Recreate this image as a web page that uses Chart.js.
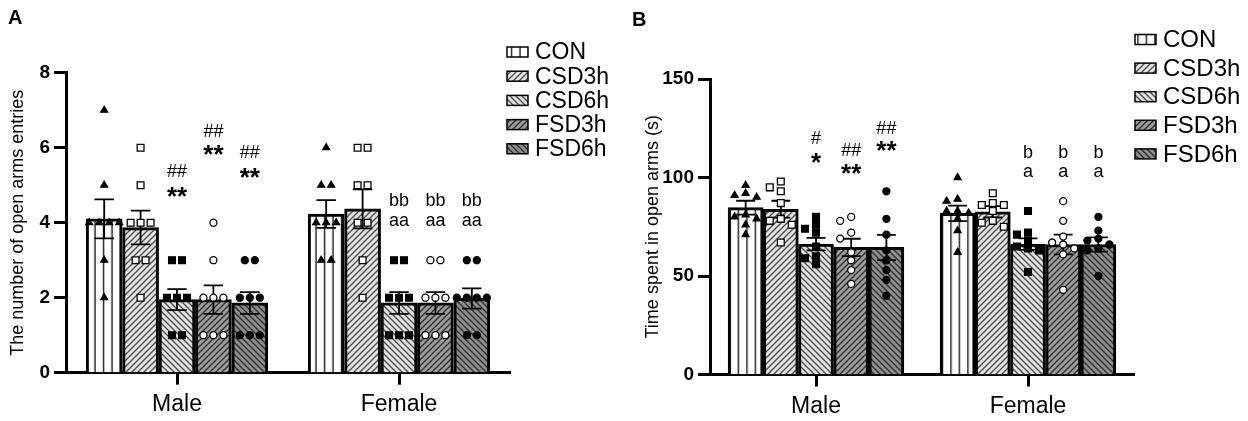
<!DOCTYPE html>
<html><head><meta charset="utf-8">
<script src="https://cdn.jsdelivr.net/npm/chart.js@4.4.1/dist/chart.umd.min.js"></script>
<style>
html,body{margin:0;padding:0;background:#fff;}
#wrap{position:relative;width:1248px;height:421px;overflow:hidden;background:#fff;}
canvas{position:absolute;top:0;}
#ca{left:0;} #cb{left:620px;}
</style></head><body>
<div id="wrap"><canvas id="ca" width="620" height="421"></canvas><canvas id="cb" width="628" height="421"></canvas></div>
<script>
// ---------- DATA ----------
const categories = ['Male', 'Female'];
const groups = ['CON', 'CSD3h', 'CSD6h', 'FSD3h', 'FSD6h'];

// Panel A: number of open arms entries
const aTicks = [0, 2, 4, 6, 8];
const aMeanMale   = [4.10, 3.87, 1.95, 1.95, 1.86];
const aMeanFemale = [4.23, 4.37, 1.86, 1.86, 1.98];
const aSemMale    = [0.52, 0.45, 0.28, 0.38, 0.29];
const aSemFemale  = [0.37, 0.52, 0.29, 0.29, 0.27];
const aPtsMale = [
  [7, 5, 4, 4, 4, 4, 3, 2],
  [6, 5, 4, 4, 4, 3, 3, 2],
  [3, 3, 2, 2, 2, 1, 1],
  [4, 3, 2, 2, 2, 1, 1, 1],
  [3, 3, 2, 2, 2, 1, 1, 1]
];
const aPtsFemale = [
  [6, 5, 5, 4, 4, 4, 3, 3],
  [6, 6, 5, 5, 4, 4, 3, 2],
  [3, 3, 2, 2, 2, 1, 1, 1],
  [3, 3, 2, 2, 2, 1, 1, 1],
  [3, 3, 2, 2, 2, 2, 1, 1]
];
const aMarksMale   = [null, null, [['##', 5.34], ['**', 4.81]], [['##', 6.42], ['**', 5.91]], [['##', 5.85], ['**', 5.32]]];
const aMarksFemale = [null, null, [['bb', 4.58], ['aa', 4.05]], [['bb', 4.58], ['aa', 4.05]], [['bb', 4.58], ['aa', 4.05]]];

// Panel B: time spent in open arms (s)
const bTicks = [0, 50, 100, 150];
const bMeanMale   = [84.7, 83.9, 66.2, 64.5, 64.5];
const bMeanFemale = [81.8, 82.6, 66.2, 66.0, 66.0];
const bSemMale    = [3.5, 4.3, 3.2, 4.4, 6.4];
const bSemFemale  = [3.9, 2.9, 2.9, 5.0, 3.6];
const bPtsMale = [
  [96, 92, 91, 90, 81, 80, 79, 76, 71],
  [98, 95, 93, 87, 79, 78, 76, 67],
  [80, 76, 74, 72, 65, 60, 59, 56],
  [80, 78, 72, 69, 62, 58, 53, 46],
  [93, 79, 71, 63, 58, 53, 48, 40]
];
const bPtsFemale = [
  [100, 89, 88, 83, 83, 82, 79, 73, 62],
  [92, 87, 86, 86, 83, 78, 77, 75],
  [83, 72, 71, 68, 65, 64, 63, 52],
  [88, 78, 70, 67, 66, 64, 61, 43],
  [80, 73, 69, 68, 66, 64, 63, 50]
];
const bMarksMale   = [null, null, [['#', 119.4], ['*', 109.7]], [['##', 113.6], ['**', 104.2]], [['##', 124.5], ['**', 115.6]]];
const bMarksFemale = [null, null, [['b', 112.6], ['a', 103]], [['b', 112.6], ['a', 103]], [['b', 112.6], ['a', 103]]];

// ---------- STYLE ----------
const FAM = '"Liberation Sans", Arial, Helvetica, sans-serif';
const markerStyle = [
  {style: 'triangle', fill: '#000', r: 4},
  {style: 'rect', fill: '#fff', r: 4.8},
  {style: 'rect', fill: '#000', r: 4.8},
  {style: 'circle', fill: '#fff', r: 3.5},
  {style: 'circle', fill: '#000', r: 3.5}
];

function vPattern(phase) {
  const c = document.createElement('canvas'); c.width = 17; c.height = 4;
  const x = c.getContext('2d');
  x.fillStyle = '#fff'; x.fillRect(0, 0, 17, 4);
  x.fillStyle = '#1a1a1a'; x.fillRect(0, 0, 1.4, 4); x.fillRect(8.5, 0, 1.4, 4);
  const p = x.createPattern(c, 'repeat');
  if (p.setTransform) p.setTransform(new DOMMatrix([1, 0, 0, 1, phase, 0]));
  return p;
}
function dPattern(bg, fg, dir, s, lw) {
  const c = document.createElement('canvas'); c.width = s; c.height = s;
  const x = c.getContext('2d');
  x.fillStyle = bg; x.fillRect(0, 0, s, s);
  x.strokeStyle = fg; x.lineWidth = lw; x.beginPath();
  if (dir > 0) {
    x.moveTo(-1, s + 1); x.lineTo(s + 1, -1);
    x.moveTo(-1, 1); x.lineTo(1, -1);
    x.moveTo(s - 1, s + 1); x.lineTo(s + 1, s - 1);
  } else {
    x.moveTo(-1, -1); x.lineTo(s + 1, s + 1);
    x.moveTo(s - 1, -1); x.lineTo(s + 1, 1);
    x.moveTo(-1, s - 1); x.lineTo(1, s + 1);
  }
  x.stroke();
  return x.createPattern(c, 'repeat');
}
function fills(phase) {
  return [
    vPattern(phase),
    dPattern('#e4e4e4', '#4a4a4a', 1, 6, 1.3),
    dPattern('#e2e2e2', '#4a4a4a', -1, 6, 1.3),
    dPattern('#9c9c9c', '#2e2e2e', 1, 6, 1.3),
    dPattern('#8e8e8e', '#2e2e2e', -1, 6, 1.3)
  ];
}

// horizontal spreading of individual points (offsets in category-index units)
function swarm(values, dx, thrY, rows) {
  const off = new Array(values.length);
  if (rows) {
    const g = {};
    values.forEach((v, i) => { (g[v] = g[v] || []).push(i); });
    Object.values(g).forEach(list => list.forEach((i, k) => { off[i] = (k - (list.length - 1) / 2) * dx; }));
    return off;
  }
  const order = values.map((v, i) => i).sort((a, b) => values[b] - values[a]);
  const placed = [];
  const cands = [0, -1, 1, -2, 2];
  order.forEach(i => {
    const v = values[i];
    for (const c of cands) {
      const o = c * dx;
      if (!placed.some(p => Math.abs(p.v - v) < thrY && Math.abs(p.o - o) < dx * 0.9)) { off[i] = o; placed.push({v, o}); break; }
    }
    if (off[i] === undefined) { off[i] = 0; placed.push({v, o: 0}); }
  });
  return off;
}

function buildChart(canvas, cfg) {
  const pats = fills(cfg.phase);
  const n = groups.length;
  const slotX = (g, s) => g + (s - (n - 1) / 2) * cfg.slot;  // group index -> bar centre in index units
  const datasets = [];
  groups.forEach((name, s) => {
    datasets.push({
      type: 'bar', label: name, order: 2, grouped: false,
      data: cfg.means.map((m, g) => ({x: slotX(g, s), y: m[s]})),
      backgroundColor: pats[s], borderColor: '#000', borderWidth: 3,
      barThickness: cfg.barW
    });
  });
  groups.forEach((name, s) => {
    const data = [];
    cfg.pts.forEach((grp, g) => {
      const vals = grp[s];
      const off = swarm(vals, cfg.dx, cfg.thrY, cfg.rows);
      vals.forEach((v, k) => data.push({x: slotX(g, s) + off[k], y: v}));
    });
    const m = markerStyle[s];
    datasets.push({
      type: 'scatter', label: name + ' pts', order: 1, grouped: false, data,
      pointStyle: m.style, pointRadius: m.r, pointHoverRadius: m.r,
      pointBackgroundColor: m.fill, pointBorderColor: '#000', pointBorderWidth: 1.3, showLine: false
    });
  });

  const errPlugin = {
    id: 'errbars',
    afterDatasetDraw(chart, args) {
      if (args.meta.type !== 'bar' || args.index !== 0) return;
      const y = chart.scales.y, ctx = chart.ctx;
      ctx.save(); ctx.strokeStyle = '#000'; ctx.lineWidth = 1.8;
      for (let s = 0; s < n; s++) {
        chart.getDatasetMeta(s).data.forEach((bar, g) => {
          const m = cfg.means[g][s], e = cfg.sems[g][s];
          const x = bar.x, hw = bar.width * 0.27;
          const yt = y.getPixelForValue(m + e), yb = y.getPixelForValue(m - e);
          ctx.beginPath();
          ctx.moveTo(x, yt); ctx.lineTo(x, yb);
          ctx.moveTo(x - hw, yt); ctx.lineTo(x + hw, yt);
          ctx.moveTo(x - hw, yb); ctx.lineTo(x + hw, yb);
          ctx.stroke();
        });
      }
      ctx.restore();
    }
  };
  const textPlugin = {
    id: 'texts',
    afterDraw(chart) {
      const ctx = chart.ctx, y = chart.scales.y;
      ctx.save(); ctx.fillStyle = '#000';
      ctx.textAlign = 'center'; ctx.textBaseline = 'middle';
      cfg.marks.forEach((list, g) => list.forEach((entry, s) => {
        if (!entry) return;
        const bar = chart.getDatasetMeta(s).data[g];
        entry.forEach(([t, v]) => {
          const star = t.indexOf('*') >= 0, hash = t.indexOf('#') >= 0;
          const sz = star ? cfg.starSize : (hash ? cfg.hashSize : cfg.letterSize);
          ctx.font = (star ? 'bold ' : '') + sz + 'px ' + FAM;
          ctx.fillText(t, bar.x, y.getPixelForValue(v) + (star ? sz * 0.2 : 0));
        });
      }));
      // legend
      const L = cfg.legend;
      ctx.textAlign = 'left'; ctx.font = L.size + 'px ' + FAM;
      groups.forEach((name, s) => {
        const cy = L.y + s * L.dy;
        ctx.fillStyle = chart.data.datasets[s].backgroundColor;
        ctx.fillRect(L.x, cy - 5, 21, 10);
        ctx.strokeStyle = '#000'; ctx.lineWidth = 1.5;
        ctx.strokeRect(L.x, cy - 5, 21, 10);
        ctx.fillStyle = '#000';
        ctx.fillText(name, L.x + L.tx, cy + 1);
      });
      // panel letter
      ctx.font = 'bold 20px ' + FAM;
      ctx.fillText(cfg.letter, cfg.letterX, cfg.letterY);
      ctx.restore();
    }
  };

  return new Chart(canvas, {
    type: 'bar',
    data: {datasets},
    options: {
      responsive: false, animation: false, events: [],
      layout: {padding: {left: 0, right: cfg.padRight, top: cfg.top, bottom: 0}},
      plugins: {legend: {display: false}, tooltip: {enabled: false}},
      scales: {
        x: {
          type: 'linear', min: -0.5, max: 1.5, offset: false,
          afterBuildTicks: s => { s.ticks = categories.map((c, i) => ({value: i})); },
          grid: {display: true, offset: false, drawOnChartArea: false, color: '#000', tickColor: '#000', tickLength: 12, tickWidth: 3},
          border: {display: true, color: '#000', width: 3},
          ticks: {color: '#000', font: {family: FAM, size: 23}, padding: 6, autoSkip: false, maxRotation: 0,
                  callback: v => categories[Math.round(v)]},
          afterFit: s => { s.height = cfg.xH; }
        },
        y: {
          type: 'linear', min: 0, max: cfg.ticks[cfg.ticks.length - 1],
          afterBuildTicks: s => { s.ticks = cfg.ticks.map(v => ({value: v})); },
          ticks: {color: '#000', font: {family: FAM, size: 19, weight: 'bold'}, padding: 4},
          grid: {drawOnChartArea: false, color: '#000', tickColor: '#000', tickLength: 12, tickWidth: 3},
          border: {display: true, color: '#000', width: 3},
          title: {display: true, text: cfg.yTitle, color: '#000', font: {family: FAM, size: 18}, padding: {top: cfg.titlePad, bottom: 0}},
          afterFit: s => { s.width = cfg.yW; }
        }
      }
    },
    plugins: [errPlugin, textPlugin]
  });
}

buildChart(document.getElementById('ca'), {
  means: [aMeanMale, aMeanFemale], sems: [aSemMale, aSemFemale], pts: [aPtsMale, aPtsFemale],
  marks: [aMarksMale, aMarksFemale], ticks: aTicks,
  yTitle: 'The number of open arms entries', titlePad: 7,
  yW: 66, padRight: 110, top: 72.7, xH: 48.3,
  slot: 0.164, barW: 36, dx: 0.045, thrY: 0.3, rows: true, phase: 0.8,
  starSize: 26, hashSize: 18, letterSize: 18,
  legend: {x: 507, y: 52, dy: 24.2, tx: 28, size: 23},
  letter: 'A', letterX: 8, letterY: 18
});
buildChart(document.getElementById('cb'), {
  means: [bMeanMale, bMeanFemale], sems: [bSemMale, bSemFemale], pts: [bPtsMale, bPtsFemale],
  marks: [bMarksMale, bMarksFemale], ticks: bTicks,
  yTitle: 'Time spent in open arms (s)', titlePad: 22,
  yW: 90, padRight: 114, top: 79, xH: 46.5,
  slot: 0.166, barW: 35, dx: 0.052, thrY: 3.5, rows: false, phase: 7.2,
  starSize: 26, hashSize: 18, letterSize: 18,
  legend: {x: 515, y: 39.5, dy: 28.6, tx: 28, size: 24},
  letter: 'B', letterX: 12, letterY: 20
});
</script>
</body></html>
